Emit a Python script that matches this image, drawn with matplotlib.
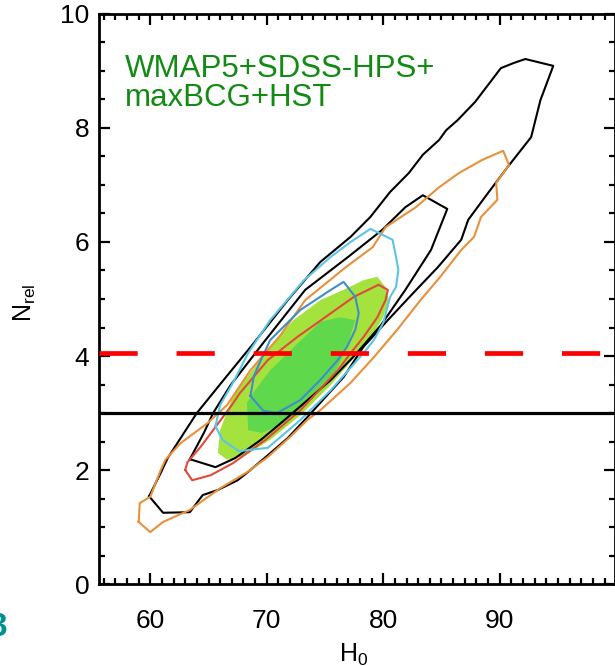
import matplotlib
matplotlib.use('agg')
import matplotlib.pyplot as plt
from matplotlib.ticker import MultipleLocator

plt.rcParams['font.family'] = ['Liberation Sans', 'DejaVu Sans']
plt.rcParams['lines.scale_dashes'] = False

# contour outlines (H0, N_rel)
black_outer_h = [59.9, 61.1, 63.4, 64.5, 65.8, 67.5, 68.3, 70.1, 71.8, 73.5, 74.6, 76.6, 78.3, 80.4,
                 82.6, 84.7, 86.7, 87.3, 89.0, 90.7, 92.7, 93.5, 94.6, 92.2, 91.2, 90.1, 87.9, 86.4,
                 85.4, 84.8, 83.4, 82.2, 80.6, 78.9, 77.2, 74.6, 71.8, 68.9, 66.3, 64.0, 61.5, 60.9]
black_outer_n = [1.54, 1.25, 1.26, 1.56, 1.65, 1.82, 1.95, 2.26, 2.56, 2.93, 3.18, 3.63, 4.16, 4.63,
                 5.11, 5.56, 6.04, 6.39, 6.86, 7.32, 7.84, 8.49, 9.09, 9.21, 9.14, 9.05, 8.46, 8.14,
                 7.96, 7.79, 7.53, 7.21, 6.88, 6.44, 6.09, 5.65, 4.98, 4.23, 3.58, 3.00, 2.21, 1.95]

black_inner_h = [63.4, 65.6, 67.3, 69.5, 71.2, 73.3, 75.5, 77.6, 79.8, 81.9, 84.1, 85.5, 83.4, 81.9,
                 79.9, 77.0, 73.3, 69.7, 66.9, 65.4, 64.6]
black_inner_n = [2.19, 2.05, 2.21, 2.53, 2.82, 3.19, 3.58, 4.02, 4.54, 5.16, 5.86, 6.58, 6.82, 6.61,
                 6.21, 5.74, 5.16, 4.23, 3.49, 3.00, 2.65]

orange_h = [59.0, 60.0, 61.1, 63.4, 66.0, 68.3, 70.1, 72.0, 73.5, 74.6, 77.2, 79.2, 81.2, 83.2,
            84.9, 86.7, 87.8, 88.4, 89.8, 89.7, 90.8, 90.3, 88.5, 86.5, 84.8, 82.8, 80.2, 79.1,
            76.8, 73.3, 71.2, 68.6, 66.6, 64.9, 62.6, 61.3, 60.9, 60.0, 59.1]
orange_n = [1.09, 0.91, 1.09, 1.30, 1.68, 1.96, 2.23, 2.58, 2.88, 3.05, 3.53, 3.98, 4.46, 4.98,
            5.39, 5.86, 6.09, 6.44, 6.74, 7.04, 7.35, 7.60, 7.44, 7.21, 6.96, 6.61, 6.26, 5.91,
            5.56, 4.98, 4.37, 3.75, 3.14, 2.82, 2.47, 2.18, 2.00, 1.53, 1.42]

red_h = [63.0, 63.6, 65.2, 67.1, 69.9, 72.9, 76.1, 77.2, 78.3, 79.5, 80.2, 80.4, 79.6, 78.7,
         77.5, 75.5, 72.6, 70.1, 67.7, 66.9, 65.4, 64.3, 63.2]
red_n = [2.00, 1.82, 1.91, 2.12, 2.53, 3.05, 3.75, 4.05, 4.33, 4.68, 4.98, 5.16, 5.25, 5.16,
         5.04, 4.75, 4.33, 3.93, 3.35, 3.11, 2.70, 2.40, 2.14]

sky_h = [65.6, 66.2, 67.6, 70.1, 70.9, 72.9, 75.5, 78.3, 79.2, 80.0, 80.6, 81.1, 81.3, 81.1,
         80.8, 78.9, 77.2, 75.5, 73.2, 70.3, 68.4, 67.1, 66.0]
sky_n = [2.77, 2.53, 2.33, 2.39, 2.53, 2.88, 3.40, 4.05, 4.28, 4.58, 5.04, 5.21, 5.51, 5.74,
         6.04, 6.23, 6.00, 5.74, 5.33, 4.63, 4.05, 3.53, 3.14]

steel_h = [68.6, 69.7, 70.9, 72.9, 74.6, 76.1, 76.9, 77.6, 77.9, 77.6, 76.6, 75.5, 72.9, 70.3,
           69.5, 68.9]
steel_n = [3.30, 3.04, 3.00, 3.23, 3.58, 3.93, 4.16, 4.46, 4.75, 5.04, 5.30, 5.16, 4.81, 4.28,
           3.93, 3.65]

green2_h = [65.8, 66.6, 68.2, 70.3, 72.9, 75.5, 78.3, 79.2, 80.0, 80.5, 80.2, 79.5, 78.3, 76.6,
            74.6, 72.3, 70.3, 68.3, 67.1, 66.0]
green2_n = [2.30, 2.18, 2.26, 2.53, 2.96, 3.49, 4.16, 4.40, 4.68, 4.98, 5.21, 5.39, 5.33, 5.16,
            4.98, 4.63, 4.16, 3.63, 3.30, 2.70]

green1_h = [68.3, 68.4, 69.6, 71.4, 73.8, 75.9, 76.9, 77.6, 76.3, 74.6, 72.5, 70.3, 69.0]
green1_n = [3.18, 2.70, 2.65, 2.82, 3.23, 3.72, 4.16, 4.63, 4.68, 4.60, 4.19, 3.75, 3.40]

n_dashed = 4.05
n_solid = 3.0

fig = plt.figure(figsize=(6.15, 6.66), dpi=100)
ax = fig.add_axes([0.161, 0.1231, 0.839, 0.8559])

ax.fill(green2_h, green2_n, color='#a4e23e', lw=0, zorder=1)
ax.fill(green1_h, green1_n, color='#5fd84c', lw=0, zorder=1.1)

outlines = [(black_outer_h, black_outer_n, 'black'),
            (black_inner_h, black_inner_n, 'black'),
            (orange_h, orange_n, '#e8903a'),
            (red_h, red_n, '#e04a3a'),
            (sky_h, sky_n, '#5cc4e6'),
            (steel_h, steel_n, '#3f8ec8')]
for h, n, c in outlines:
    ax.plot(h + h[:1], n + n[:1], color=c, lw=1.5, zorder=2)

ax.axhline(n_solid, color='black', lw=2.3, zorder=3)
ax.axhline(n_dashed, color='#ff0000', lw=3.4, dashes=(27.5, 28), dash_capstyle='butt', zorder=4)

ax.set_xlim(55.6, 99.9)
ax.set_ylim(0, 10)
ax.xaxis.set_major_locator(MultipleLocator(10))
ax.xaxis.set_minor_locator(MultipleLocator(1))
ax.yaxis.set_major_locator(MultipleLocator(2))
ax.yaxis.set_minor_locator(MultipleLocator(0.5))
ax.tick_params(which='both', direction='in', top=True, right=True, width=1.6)
ax.tick_params(which='major', length=8)
ax.tick_params(which='minor', length=4)
ax.tick_params(axis='x', which='major', labelsize=19, pad=18)
ax.tick_params(axis='y', which='major', labelsize=19, pad=7)
for s in ax.spines.values():
    s.set_linewidth(2)

ax.text(0.05, 0.93, 'WMAP5+SDSS-HPS+\nmaxBCG+HST', transform=ax.transAxes, color='#138a13',
        fontsize=22.5, ha='left', va='top', linespacing=0.95)

fig.text(25 / 615, 1 - 303 / 666, r'$\mathregular{N_{rel}}$', rotation=90, fontsize=18,
         ha='center', va='center')
fig.text(354 / 615, 1 - 642 / 666, r'$\mathregular{H_0}$', fontsize=18, ha='center', va='top')
fig.text(7 / 615, 1 - 627 / 666, '3', color='#009090', fontsize=24, ha='right', va='center',
         fontweight='bold')

fig.savefig('out.png', dpi=100)
